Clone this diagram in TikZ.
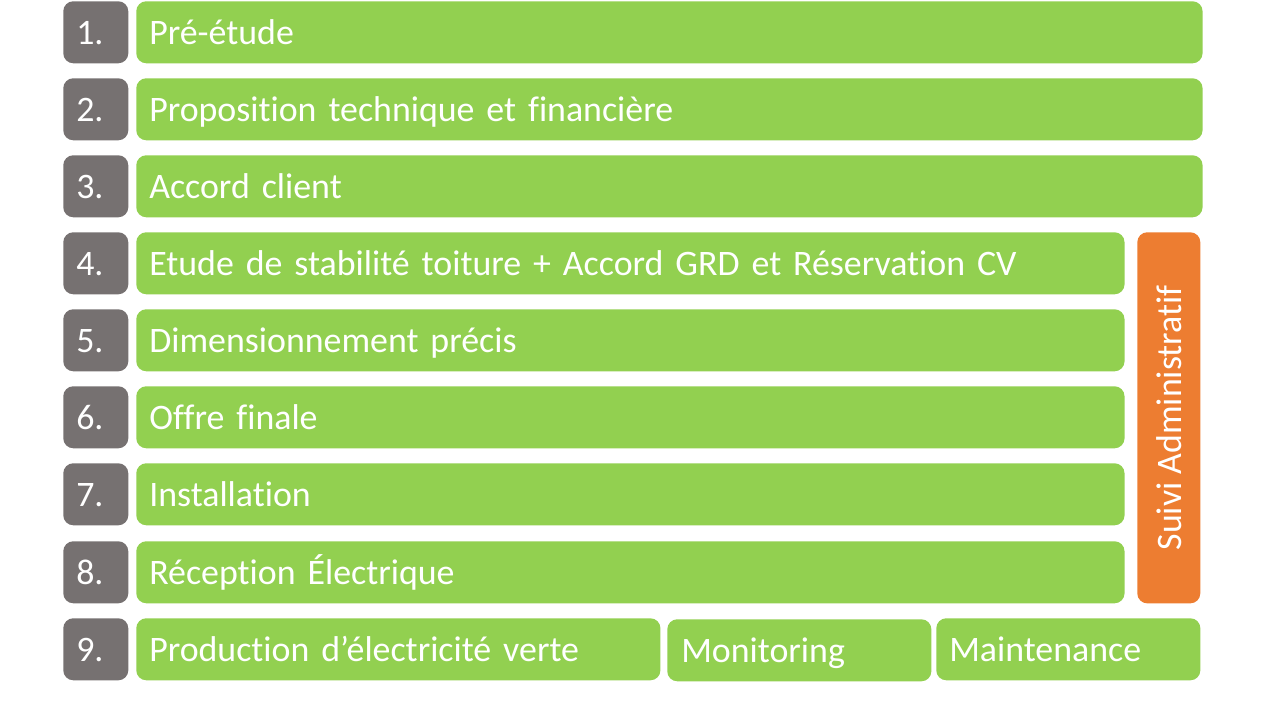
\documentclass[tikz,border=0pt]{standalone}
\usepackage{fontspec}
\setmainfont[Ligatures=NoCommon]{Carlito}
\usepackage{tikz}
\usetikzlibrary{positioning}

\definecolor{stepgreen}{HTML}{92D050}
\definecolor{stepgrey}{HTML}{767171}
\definecolor{steporange}{HTML}{ED7D31}

\begin{document}
\begin{tikzpicture}[x=0.025cm, y=-0.025cm,
    box/.style={rounded corners=0.25cm, anchor=north west, minimum height=1.55cm,
      inner xsep=0.325cm, inner ysep=0pt, text height=0.7cm, text depth=0.1cm,
      align=left, text=white, font=\fontsize{25.5}{30}\selectfont},
    numbox/.style={box, fill=stepgrey, text width=0.975cm, inner xsep=0.325cm},
    taskbox/.style={box, fill=stepgreen}]
  \useasboundingbox (0,0) rectangle (1280,720);

  \foreach \i/\y/\w/\txt in {1/1/26cm/Pré-étude,
      2/78/26cm/Proposition technique et financière,
      3/155/26cm/Accord client,
      4/232/24.05cm/Etude de stabilité toiture + Accord GRD et Réservation CV,
      5/309/24.05cm/Dimensionnement précis,
      6/386/24.05cm/Offre finale,
      7/463/24.05cm/Installation,
      8/541/24.05cm/Réception Électrique} {
      \node[numbox] (num\i) at (63,\y) {\i.};
      \node[taskbox, text width=\w] (task\i) at (136,\y) {\txt};
  };

  % derniere ligne
  \node[numbox] (num9) at (63,618) {9.};
  \node[taskbox, text width=12.45cm] (prod) at (136,618) {Production d’électricité verte};
  \node[taskbox, text width=5.9cm, inner xsep=0.35cm] (monit) at (667,619) {Monitoring};
  \node[taskbox, text width=5.95cm] (maint) at (936,618) {Maintenance};

  % suivi administratif
  \node[box, fill=steporange, anchor=north west, minimum width=1.575cm,
    minimum height=9.275cm, text width=0.925cm, inner xsep=0.325cm] (admin) at (1137,232) {};
  \node[text=white, rotate=90, font=\fontsize{25.5}{30}\selectfont] (admintxt) at (admin.center) {Suivi Administratif};
\end{tikzpicture}
\end{document}
